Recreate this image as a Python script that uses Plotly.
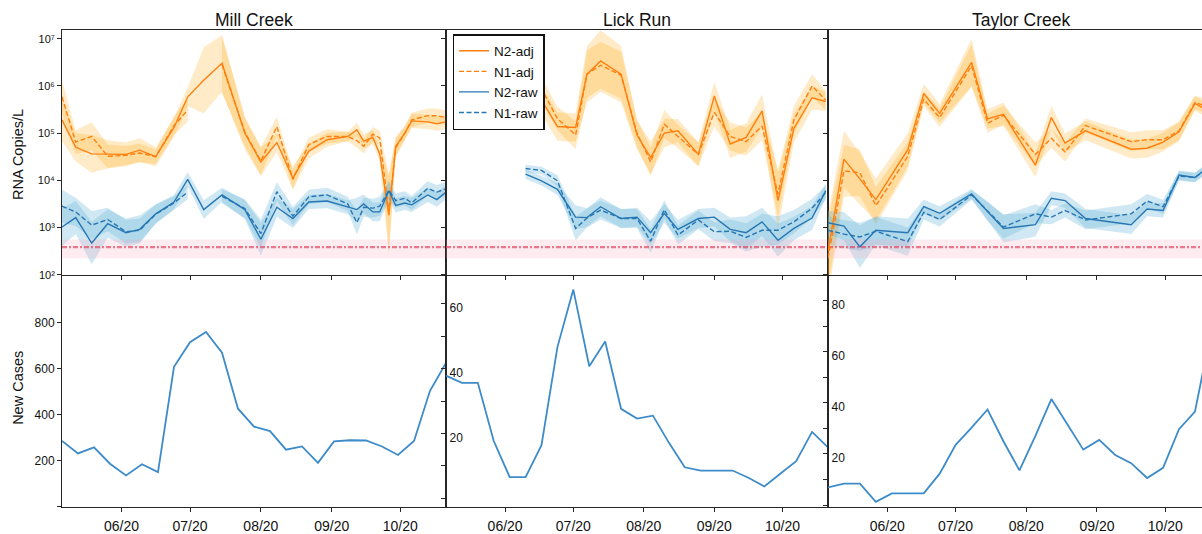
import plotly.graph_objects as go

# ---------------- data (log10 RNA copies/L) ----------------
sites = ["Mill Creek", "Lick Run", "Taylor Creek"]

mill_dates = ["2020-05-06", "2020-05-12", "2020-05-19", "2020-05-26", "2020-06-03", "2020-06-09",
              "2020-06-16", "2020-06-24", "2020-06-30", "2020-07-07", "2020-07-15", "2020-07-25",
              "2020-08-01", "2020-08-08", "2020-08-15", "2020-08-22", "2020-08-30", "2020-09-08",
              "2020-09-12", "2020-09-15", "2020-09-19", "2020-09-22", "2020-09-26", "2020-09-29",
              "2020-10-03", "2020-10-06", "2020-10-13", "2020-10-17", "2020-10-21"]
mill_n2_adj = [5.28, 4.70, 4.56, 4.55, 4.55, 4.64, 4.50, 5.12, 5.77, 6.12, 6.48, 5.00, 4.39, 4.80, 4.05,
               4.62, 4.86, 4.93, 5.07, 4.83, 4.91, 4.56, 3.26, 4.72, 5.00, 5.26, 5.24, 5.20, 5.24]
mill_n1_adj = [5.77, 4.81, 4.93, 4.51, 4.53, 4.58, 4.50, 5.16, 5.49, None, 6.45, 5.02, 4.41, 5.14, 4.02,
               4.76, 4.93, 4.93, 4.84, 4.72, 4.98, 4.90, 3.33, 4.69, 5.00, 5.28, 5.37, 5.37, 5.33]
mill_n2_raw = [3.01, 3.21, 2.67, 3.08, 2.89, 2.96, 3.29, 3.54, 4.02, 3.38, 3.69, 3.38, 2.75, 3.43, 3.19,
               3.54, 3.56, 3.43, 3.38, 3.50, 3.33, 3.33, 3.78, 3.47, 3.52, 3.48, 3.69, 3.59, 3.75]
mill_n1_raw = [3.45, 3.33, 3.05, 3.17, 2.91, 2.94, 3.28, 3.52, 3.75, None, 3.66, 3.40, 2.87, 3.76, 3.24,
               3.65, 3.69, 3.50, 3.10, 3.43, 3.41, 3.45, 3.79, 3.57, 3.62, 3.52, 3.83, 3.75, 3.82]
mill_n2_adj_err = [0.45, 0.3, 0.4, 0.3, 0.25, 0.25, 0.2, 0.2, 0.2, 0.7, 0.6, 0.35, 0.3, 0.2, 0.25,
                   0.15, 0.15, 0.1, 0.15, 0.15, 0.15, 0.15, 0.85, 0.2, 0.15, 0.15, 0.15, 0.15, 0.15]
mill_n1_adj_err = [0.35, 0.25, 0.3, 0.25, 0.2, 0.2, 0.15, 0.2, 0.25, None, 0.6, 0.3, 0.3, 0.2, 0.2,
                   0.15, 0.15, 0.1, 0.15, 0.15, 0.15, 0.15, 0.8, 0.2, 0.15, 0.15, 0.15, 0.15, 0.15]
mill_n2_raw_err = [0.4, 0.35, 0.45, 0.3, 0.3, 0.3, 0.2, 0.15, 0.15, 0.2, 0.15, 0.2, 0.35, 0.2, 0.2,
                   0.15, 0.15, 0.15, 0.25, 0.2, 0.2, 0.2, 0.2, 0.15, 0.15, 0.15, 0.15, 0.15, 0.15]
mill_n1_raw_err = [0.35, 0.3, 0.3, 0.25, 0.25, 0.25, 0.2, 0.15, 0.15, None, 0.15, 0.2, 0.3, 0.2, 0.2,
                   0.15, 0.15, 0.15, 0.25, 0.2, 0.2, 0.2, 0.2, 0.15, 0.15, 0.15, 0.15, 0.15, 0.15]

lick_dates = ["2020-06-10", "2020-06-17", "2020-06-24", "2020-07-02", "2020-07-07", "2020-07-13",
              "2020-07-22", "2020-07-29", "2020-08-04", "2020-08-10", "2020-08-16", "2020-08-25",
              "2020-09-01", "2020-09-08", "2020-09-15", "2020-09-22", "2020-09-29", "2020-10-06",
              "2020-10-14", "2020-10-20"]
lick_n2_adj = [5.88, 5.70, 5.14, 5.12, 6.25, 6.53, 6.25, 4.96, 4.48, 5.00, 5.05, 4.55, 5.79, 4.77,
               4.91, 5.47, 3.57, 5.10, 5.75, 5.67]
lick_n1_adj = [6.02, 5.94, 5.31, 4.96, 6.25, 6.44, 6.23, 5.00, 4.39, 5.19, 4.93, 4.55, 5.44, 4.93,
               4.82, 5.15, 3.71, 5.28, 6.00, 5.70]
lick_n2_raw = [4.13, 3.99, 3.81, 3.22, 3.21, 3.44, 3.19, 3.22, 2.89, 3.30, 2.96, 3.19, 3.22, 2.96,
               2.89, 3.12, 2.73, 2.98, 3.20, 3.78]
lick_n1_raw = [4.25, 4.21, 3.99, 2.98, 3.20, 3.37, 3.19, 3.19, 2.71, 3.38, 2.84, 3.16, 2.91, 2.92,
               2.79, 2.94, 2.94, 3.12, 3.41, 3.74]
lick_n2_adj_err = [0.25, 0.3, 0.3, 0.3, 0.6, 0.65, 0.6, 0.3, 0.35, 0.3, 0.25, 0.25, 0.3, 0.3,
                   0.3, 0.35, 0.6, 0.3, 0.25, 0.2]
lick_n1_adj_err = [0.2, 0.25, 0.25, 0.3, 0.5, 0.5, 0.5, 0.3, 0.3, 0.3, 0.25, 0.25, 0.3, 0.3,
                   0.3, 0.3, 0.5, 0.3, 0.25, 0.2]
lick_n2_raw_err = [0.1, 0.1, 0.12, 0.25, 0.2, 0.2, 0.2, 0.2, 0.25, 0.2, 0.2, 0.2, 0.2, 0.25,
                   0.35, 0.3, 0.35, 0.25, 0.25, 0.15]
lick_n1_raw_err = [0.08, 0.08, 0.12, 0.25, 0.2, 0.2, 0.2, 0.2, 0.25, 0.2, 0.2, 0.2, 0.2, 0.25,
                   0.3, 0.35, 0.3, 0.25, 0.2, 0.15]

taylor_dates = ["2020-05-06", "2020-05-13", "2020-05-20", "2020-05-27", "2020-06-10", "2020-06-17",
                "2020-06-24", "2020-07-08", "2020-07-15", "2020-07-22", "2020-08-05", "2020-08-12",
                "2020-08-18", "2020-08-27", "2020-09-16", "2020-09-23", "2020-09-30", "2020-10-07",
                "2020-10-14", "2020-10-21"]
taylor_n2_adj = [2.50, 4.45, 4.03, 3.59, 4.65, 5.84, 5.42, 6.50, 5.30, 5.40, 4.32, 5.33, 4.79, 5.05,
                 4.66, 4.68, 4.81, 5.03, 5.63, 5.44]
taylor_n1_adj = [2.35, 4.20, 4.16, 3.46, 4.51, 5.72, 5.33, 6.43, 5.21, 5.38, 4.55, 4.89, 4.60, 5.16,
                 4.82, 4.86, 4.86, 5.05, 5.65, 5.54]
taylor_n2_raw = [3.10, 3.03, 2.59, 2.94, 2.89, 3.44, 3.30, 3.71, 3.34, 2.98, 3.06, 3.62, 3.57, 3.19,
                 3.06, 3.39, 3.36, 4.11, 4.06, 4.33]
taylor_n1_raw = [2.94, 2.86, 2.80, 2.92, 2.70, 3.32, 3.17, 3.69, 3.35, 3.01, 3.29, 3.22, 3.36, 3.16,
                 3.29, 3.56, 3.44, 4.09, 4.06, 4.30]
taylor_n2_adj_err = [0.8, 0.6, 0.55, 0.45, 0.35, 0.2, 0.2, 0.5, 0.2, 0.25, 0.25, 0.25, 0.2, 0.2,
                     0.2, 0.2, 0.2, 0.2, 0.15, 0.15]
taylor_n1_adj_err = [0.8, 0.55, 0.5, 0.4, 0.3, 0.15, 0.2, 0.45, 0.2, 0.2, 0.25, 0.2, 0.2, 0.15,
                     0.2, 0.2, 0.2, 0.2, 0.15, 0.15]
taylor_n2_raw_err = [0.25, 0.3, 0.45, 0.3, 0.3, 0.15, 0.15, 0.1, 0.2, 0.3, 0.25, 0.15, 0.15, 0.2,
                     0.2, 0.15, 0.15, 0.1, 0.1, 0.1]
taylor_n1_raw_err = [0.3, 0.3, 0.3, 0.3, 0.3, 0.15, 0.15, 0.1, 0.2, 0.25, 0.2, 0.15, 0.15, 0.2,
                     0.2, 0.15, 0.15, 0.1, 0.1, 0.1]

# detection limit (copies/L) and its band
lod_value = 385
lod_low = 222
lod_high = 556

# weekly new cases
case_dates = ["2020-05-06", "2020-05-13", "2020-05-20", "2020-05-27", "2020-06-03", "2020-06-10",
              "2020-06-17", "2020-06-24", "2020-07-01", "2020-07-08", "2020-07-15", "2020-07-22",
              "2020-07-29", "2020-08-05", "2020-08-12", "2020-08-19", "2020-08-26", "2020-09-02",
              "2020-09-09", "2020-09-16", "2020-09-23", "2020-09-30", "2020-10-07", "2020-10-14",
              "2020-10-21"]
mill_cases = [285, 231, 257, 186, 135, 184, 150, 607, 714, 758, 668, 425, 347, 328, 247, 261, 190,
              283, 288, 287, 261, 224, 285, 503, 624]
lick_cases = [37.8, 35.6, 35.6, 17.7, 6.6, 6.6, 16.4, 46.6, 64.3, 40.7, 48.3, 27.6, 24.6, 25.5,
              17.2, 9.6, 8.6, 8.6, 8.6, 6.4, 3.7, 7.6, 11.5, 20.5, 15.7]
taylor_cases = [6.9, 8.4, 8.4, 1.3, 4.6, 4.6, 4.6, 12.3, 23.6, 30.3, 37.4, 24.9, 13.6, 27.1, 41.5,
                31.6, 21.7, 25.5, 19.6, 16.4, 10.6, 14.6, 29.7, 36.6, 67.6]

x_tick_vals = ["2020-06-01", "2020-07-01", "2020-08-01", "2020-09-01", "2020-10-01"]
x_tick_text = ["06/20", "07/20", "08/20", "09/20", "10/20"]
rna_tick_vals = [1e2, 1e3, 1e4, 1e5, 1e6, 1e7]
rna_tick_text = ["10\u00b2", "10\u00b3", "10\u2074", "10\u2075", "10\u2076", "10\u2077"]
mill_case_ticks = [200, 400, 600, 800]
mill_case_minor = [0]
lick_case_ticks = [20, 40, 60]
lick_case_minor = [0, 10, 30, 50]
taylor_case_ticks = [20, 40, 60, 80]
taylor_case_minor = [0, 10, 30, 50, 70]
series_names = ["N2-adj", "N1-adj", "N2-raw", "N1-raw"]

# ---------------- styling ----------------
FONT = "Liberation Sans, Arial, Helvetica, sans-serif"
ORANGE = "#ff7f0e"
BLUE = "#2777b4"
CASE_BLUE = "#3d8bc9"
ORANGE_FILL = "rgba(255,165,0,0.22)"
BLUE_FILL = "rgba(100,180,215,0.30)"
AXC = "#262626"
W, H = 1202, 534

site_data = [
    (mill_dates, [mill_n2_adj, mill_n1_adj, mill_n2_raw, mill_n1_raw],
     [mill_n2_adj_err, mill_n1_adj_err, mill_n2_raw_err, mill_n1_raw_err], mill_cases),
    (lick_dates, [lick_n2_adj, lick_n1_adj, lick_n2_raw, lick_n1_raw],
     [lick_n2_adj_err, lick_n1_adj_err, lick_n2_raw_err, lick_n1_raw_err], lick_cases),
    (taylor_dates, [taylor_n2_adj, taylor_n1_adj, taylor_n2_raw, taylor_n1_raw],
     [taylor_n2_adj_err, taylor_n1_adj_err, taylor_n2_raw_err, taylor_n1_raw_err], taylor_cases),
]
series_color = [ORANGE, ORANGE, BLUE, BLUE]
series_fill = [ORANGE_FILL, ORANGE_FILL, BLUE_FILL, BLUE_FILL]
series_dash = ["solid", "5px,2.5px", "solid", "5px,2.5px"]


def band_traces(dates, logv, err, fill, xa, ya):
    segs, cur = [], []
    for d, v, e in zip(dates, logv, err):
        if v is None or e is None:
            if cur:
                segs.append(cur)
            cur = []
            continue
        cur.append((d, 10 ** (v - e), 10 ** (v + e)))
    if cur:
        segs.append(cur)
    out = []
    for s in segs:
        xs = [p[0] for p in s]
        lo = [p[1] for p in s]
        hi = [p[2] for p in s]
        out.append(go.Scatter(x=xs + xs[::-1], y=hi + lo[::-1], fill="toself", fillcolor=fill,
                              mode="lines", line=dict(width=0), hoverinfo="skip",
                              showlegend=False, xaxis=xa, yaxis=ya))
    return out


fig = go.Figure()

# bands
for i, (dates, vals, errs, _) in enumerate(site_data):
    xa, ya = ("x" if i == 0 else f"x{i+1}"), ("y" if i == 0 else f"y{i+1}")
    for k in range(4):
        for t in band_traces(dates, vals[k], errs[k], series_fill[k], xa, ya):
            fig.add_trace(t)

# detection limit band + line
lod_x = [mill_dates[0], mill_dates[-1]]
for i in range(3):
    xa, ya = ("x" if i == 0 else f"x{i+1}"), ("y" if i == 0 else f"y{i+1}")
    fig.add_trace(go.Scatter(x=lod_x + lod_x[::-1], y=[lod_high, lod_high, lod_low, lod_low],
                             fill="toself", fillcolor="rgba(255,170,190,0.22)", mode="lines",
                             line=dict(width=0), hoverinfo="skip", showlegend=False,
                             xaxis=xa, yaxis=ya))
    fig.add_trace(go.Scatter(x=lod_x, y=[lod_value, lod_value], mode="lines",
                             line=dict(color="rgba(225,75,100,0.72)", width=2.2,
                                       dash="5px,2px,2px,2px"),
                             hoverinfo="skip", showlegend=False, xaxis=xa, yaxis=ya))

# concentration lines
for i, (dates, vals, errs, _) in enumerate(site_data):
    xa, ya = ("x" if i == 0 else f"x{i+1}"), ("y" if i == 0 else f"y{i+1}")
    for k in range(4):
        y = [10 ** v if v is not None else None for v in vals[k]]
        fig.add_trace(go.Scatter(x=dates, y=y, mode="lines", name=series_names[k],
                                 line=dict(color=series_color[k], width=1.4, dash=series_dash[k]),
                                 showlegend=(i == 0), xaxis=xa, yaxis=ya))

# cases
for i, (_, _, _, cases) in enumerate(site_data):
    fig.add_trace(go.Scatter(x=case_dates, y=cases, mode="lines",
                             line=dict(color=CASE_BLUE, width=1.8), showlegend=False,
                             xaxis=f"x{i+4}", yaxis=f"y{i+4}"))

# ---------------- axes ----------------
def px_x(p):
    return p / W


def px_y(p):
    return 1 - p / H


col_dom = [[px_x(62), px_x(446)], [px_x(446), px_x(828)], [px_x(828), 1.0]]
top_dom = [px_y(278.3), px_y(30)]
bot_dom = [px_y(513.3), px_y(279.3)]
x_ranges = [[mill_dates[0], mill_dates[-1]], [mill_dates[0], mill_dates[-1]],
            [mill_dates[0], "2020-10-17 02:00"]]

common = dict(showline=True, linecolor=AXC, linewidth=1, ticks="outside", ticklen=4,
              tickcolor=AXC, tickwidth=1, showgrid=False, zeroline=False)
minor_style = dict(ticks="outside", ticklen=4, tickcolor=AXC, tickwidth=1, showgrid=False)
tick_font = dict(size=12, color="#111", family=FONT)

layout_axes = {}
for i in range(3):
    n_top = "" if i == 0 else str(i + 1)
    n_bot = str(i + 4)
    layout_axes["xaxis" + n_top] = dict(common, domain=col_dom[i], anchor="y" + n_top, type="date",
                                        range=x_ranges[i], tickvals=x_tick_vals,
                                        showticklabels=False, mirror=True)
    layout_axes["xaxis" + n_bot] = dict(common, domain=col_dom[i], anchor="y" + n_bot, type="date",
                                        range=x_ranges[i], tickvals=x_tick_vals,
                                        ticktext=x_tick_text, mirror=True, ticklabelstandoff=3,
                                        tickfont=dict(size=14, color="#111", family=FONT))
    top_y = dict(common, domain=top_dom, anchor="x" + n_top, type="log", range=[2, 7.195],
                 tickvals=rna_tick_vals, showticklabels=(i == 0), mirror=(i != 2),
                 tickfont=dict(size=11, color="#111", family=FONT))
    if i == 0:
        top_y["ticktext"] = rna_tick_text
    layout_axes["yaxis" + n_top] = top_y

layout_axes["yaxis4"] = dict(common, domain=bot_dom, anchor="x4", range=[0, 1003],
                             tickvals=mill_case_ticks, mirror=True, tickfont=tick_font,
                             minor=dict(minor_style, tickvals=mill_case_minor))
layout_axes["yaxis5"] = dict(common, domain=bot_dom, anchor="x5", range=[-2.49, 68.6],
                             tickvals=lick_case_ticks, mirror=True,
                             ticklabelposition="inside", ticklabelshift=4, ticklabelstandoff=3,
                             tickfont=tick_font,
                             minor=dict(minor_style, tickvals=lick_case_minor))
layout_axes["yaxis6"] = dict(common, domain=bot_dom, anchor="x6", range=[-0.58, 89.8],
                             tickvals=taylor_case_ticks, mirror=False,
                             ticklabelposition="inside", ticklabelshift=4, ticklabelstandoff=3,
                             tickfont=tick_font,
                             minor=dict(minor_style, tickvals=taylor_case_minor))

title_x = [(62 + 446) / 2, 637, 1020.5]
annotations = []
for i, s in enumerate(sites):
    annotations.append(dict(text=s, x=px_x(title_x[i]), y=px_y(20.5), xref="paper", yref="paper",
                            xanchor="center", yanchor="middle", showarrow=False,
                            font=dict(size=17.5, color="#111", family=FONT)))
annotations.append(dict(text="RNA Copies/L", x=px_x(18), y=px_y(157), xref="paper", yref="paper",
                        xanchor="center", yanchor="middle", textangle=-90, showarrow=False,
                        font=dict(size=14.5, color="#111", family=FONT)))
annotations.append(dict(text="New Cases", x=px_x(18), y=px_y(393), xref="paper", yref="paper",
                        xanchor="center", yanchor="middle", textangle=-90, showarrow=False,
                        font=dict(size=14.5, color="#111", family=FONT)))

fig.update_layout(
    width=W, height=H,
    margin=dict(l=0, r=0, t=0, b=0, pad=0),
    paper_bgcolor="white", plot_bgcolor="white",
    font=dict(family=FONT, color="#111"),
    showlegend=True,
    legend=dict(x=px_x(452.5), y=px_y(34.5), xanchor="left", yanchor="top", bgcolor="white",
                bordercolor="#111", borderwidth=1.5, font=dict(size=13.5, family=FONT, color="#111"),
                itemwidth=30, tracegroupgap=0),
    annotations=annotations,
    **layout_axes,
)

fig.write_html("out.html", config={"displayModeBar": False})
